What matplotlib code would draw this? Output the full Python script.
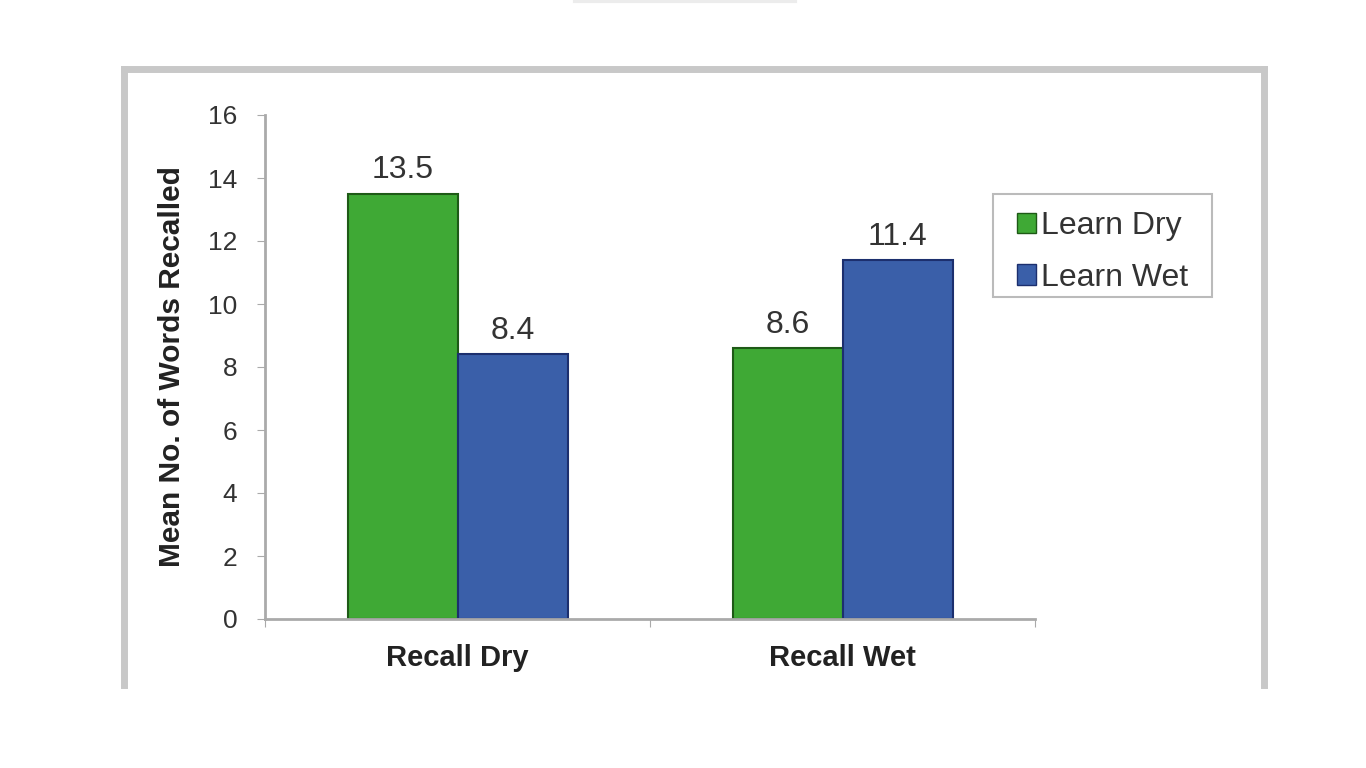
import matplotlib
matplotlib.use("Agg")
import matplotlib.pyplot as plt
from matplotlib.lines import Line2D
from matplotlib.patches import Patch, Rectangle

categories = ["Recall Dry", "Recall Wet"]
series_names = ["Learn Dry", "Learn Wet"]
learn_dry = [13.5, 8.6]
learn_wet = [8.4, 11.4]
yticks = [0, 2, 4, 6, 8, 10, 12, 14, 16]

plt.rcParams['font.family'] = ['Liberation Sans', 'DejaVu Sans']

W, H = 1366, 768
fig = plt.figure(figsize=(W / 100, H / 100), dpi=100)
fig.patch.set_facecolor("white")

# outer frame (gray, bottom open)
frame_col = "#c8c8c8"
fx0, fx1, fy0, fy1 = 124 / W, 1264 / W, 1 - 685 / H, 1 - 69 / H
fig.add_artist(Line2D([fx0, fx1], [fy1, fy1], color=frame_col, lw=5, transform=fig.transFigure))
fig.add_artist(Line2D([fx0, fx0], [fy0, fy1], color=frame_col, lw=5, transform=fig.transFigure))
fig.add_artist(Line2D([fx1, fx1], [fy0, fy1], color=frame_col, lw=5, transform=fig.transFigure))
# faint top shadow
fig.add_artist(Line2D([575 / W, 795 / W], [1 - 1 / H, 1 - 1 / H], color="#ececec", lw=3, transform=fig.transFigure))

ax = fig.add_axes([265 / W, 1 - 619 / H, (1035 - 265) / W, (619 - 115) / H])

green = "#3fa935"
green_edge = "#1e5a16"
blue = "#3a5fa9"
blue_edge = "#1c2f6e"
w = 110 / 385
x = list(range(len(categories)))
b1 = ax.bar([i - w / 2 for i in x], learn_dry, width=w, color=green, edgecolor=green_edge, lw=1.5, label=series_names[0])
b2 = ax.bar([i + w / 2 for i in x], learn_wet, width=w, color=blue, edgecolor=blue_edge, lw=1.5, label=series_names[1])

for bars in (b1, b2):
    for r in bars:
        v = r.get_height()
        ax.annotate(f"{v:.1f}", (r.get_x() + r.get_width() / 2, v), xytext=(0, 11),
                    textcoords="offset points", ha="center", va="baseline",
                    fontsize=23, color="#333333")

ax.set_xlim(-0.5, 1.5)
ax.set_ylim(0, 16)
ax.set_yticks(yticks)
ax.set_yticklabels([str(t) for t in yticks], fontsize=19, color="#333333")
ax.set_xticks([-0.5, 0.5, 1.5])
ax.set_xticklabels([])
ax.set_xticks(x, minor=True)
ax.set_xticklabels(categories, minor=True, fontsize=21, fontweight="bold", color="#222222")
ax.tick_params(axis="x", which="minor", length=0, pad=18)
ax.tick_params(axis="x", which="major", direction="out", length=6, color="#aaaaaa")
ax.tick_params(axis="y", direction="out", length=6, color="#aaaaaa", pad=14)
for s in ("top", "right"):
    ax.spines[s].set_visible(False)
for s in ("left", "bottom"):
    ax.spines[s].set_color("#aaaaaa")
    ax.spines[s].set_linewidth(2)

ax.set_ylabel("Mean No. of Words Recalled", fontsize=21.5, fontweight="bold", color="#222222", labelpad=16)

# legend frame box
fig.add_artist(Rectangle((993 / W, 1 - 297 / H), (1212 - 993) / W, (297 - 194) / H,
                         transform=fig.transFigure, facecolor="white", edgecolor="#bbbbbb", lw=1.5))
leg = fig.legend(handles=[Patch(facecolor=green, edgecolor=green_edge, label=series_names[0]),
                          Patch(facecolor=blue, edgecolor=blue_edge, label=series_names[1])],
                 loc="upper left", bbox_to_anchor=(998 / W, 1 - 192 / H),
                 fontsize=23, frameon=False, handlelength=0.6, handleheight=0.6,
                 handletextpad=0.15, borderpad=0.6, labelspacing=0.68, borderaxespad=0)
for t in leg.get_texts():
    t.set_color("#333333")

fig.savefig("out.png", dpi=100)
